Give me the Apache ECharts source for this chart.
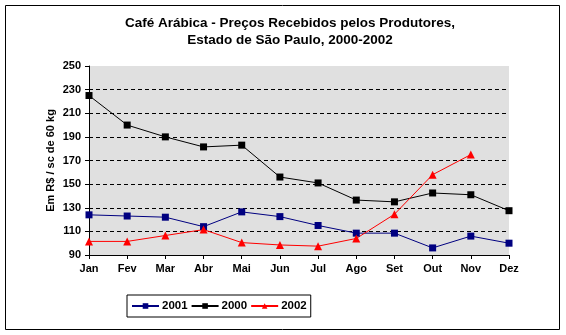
<!DOCTYPE html>
<html><head><meta charset="utf-8">
<script src="https://cdn.jsdelivr.net/npm/echarts@6/dist/echarts.min.js"></script>
<style>html,body{margin:0;padding:0;background:#fff}#c{width:566px;height:335px}</style>
</head><body><div id="c"></div>
<script>
const months = ['Jan','Fev','Mar','Abr','Mai','Jun','Jul','Ago','Set','Out','Nov','Dez'];
const s2001 = [124,123,122,114,126.5,122.5,115,108.5,108.5,96,106,100];
const s2000 = [225,200,190,181.5,183,156,151,136.5,135,142.5,141,127.5];
const s2002 = [101.5,101.5,106.5,111.5,100.5,98.5,97.5,104,124.5,158,175];
const yTicks = {min:90, max:250, interval:20};
const font = 'Liberation Sans, Arial, sans-serif';
const chart = echarts.init(document.getElementById('c'), null, {renderer:'canvas'});
function ser(name, data, color, symbol){
  return {name, type:'line', data, symbol, symbolSize: symbol==='triangle'?8:7,
    lineStyle:{color, width:1}, itemStyle:{color}, showAllSymbol:true, animation:false};
}
chart.setOption({
  animation:false,
  textStyle:{fontFamily:font},
  title:{text:'Café Arábica - Preços Recebidos pelos Produtores,\nEstado de São Paulo, 2000-2002',
    left:285, top:10, textAlign:'center',
    textStyle:{fontFamily:font, fontSize:13.5, fontWeight:'bold', color:'#000', lineHeight:17}},
  grid:{left:89, right:57, top:66, bottom:80, show:true, backgroundColor:'#e0e0e0', borderWidth:0},
  legend:{data:['2001','2000','2002'], left:127, top:295, orient:'horizontal',
    borderColor:'#000', borderWidth:1, padding:[5,4,5,4], itemGap:3, itemWidth:27, itemHeight:7,
    textStyle:{fontFamily:font, fontSize:11.5, fontWeight:'bold', color:'#000', padding:[0,0,0,-2]}},
  xAxis:{type:'category', data:months, boundaryGap:false,
    axisLine:{lineStyle:{color:'#000', width:1}},
    axisTick:{show:true, alignWithLabel:true, length:4, lineStyle:{color:'#000'}},
    axisLabel:{fontFamily:font, fontSize:11, fontWeight:'bold', color:'#000', margin:8, interval:0},
    splitLine:{show:false}},
  yAxis:{type:'value', min:yTicks.min, max:yTicks.max, interval:yTicks.interval,
    name:'Em R$ / sc de 60 kg', nameLocation:'middle', nameGap:33, nameMoveOverlap:false,
    nameTextStyle:{fontFamily:font, fontSize:11, fontWeight:'bold', color:'#000'},
    axisLine:{show:true, lineStyle:{color:'#000', width:1}},
    axisTick:{show:true, length:4, lineStyle:{color:'#000'}},
    axisLabel:{fontFamily:font, fontSize:11, fontWeight:'bold', color:'#000', margin:8},
    splitLine:{show:true, showMaxLine:false, showMinLine:false, lineStyle:{color:'#000', type:[4,3], width:1}}},
  graphic:[{type:'rect', shape:{x:5.5, y:5.5, width:554, height:324}, style:{fill:null, stroke:'#000', lineWidth:1}, silent:true, z:-1}],
  series:[ser('2001', s2001, '#000080', 'rect'), ser('2000', s2000, '#000000', 'rect'), ser('2002', s2002, '#ff0000', 'triangle')]
});
</script></body></html>
